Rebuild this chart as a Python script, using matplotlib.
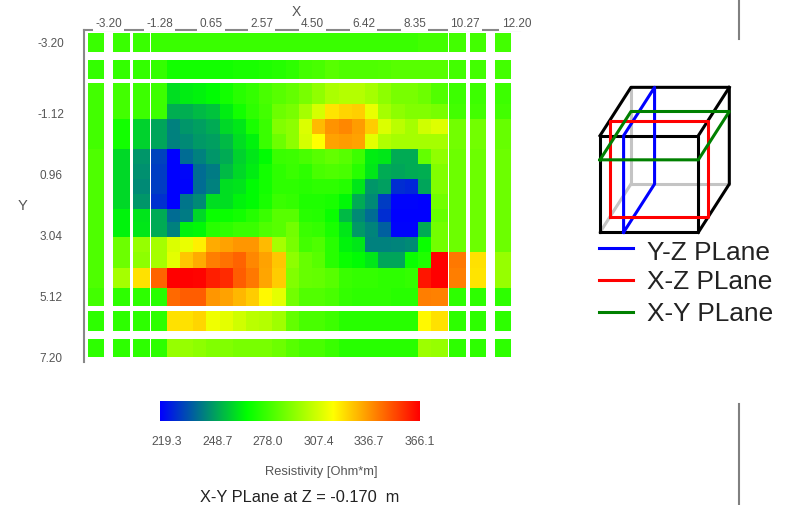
import numpy as np
from matplotlib import pyplot as plt
from matplotlib.colors import LinearSegmentedColormap
from matplotlib.lines import Line2D

plt.rcParams['font.family'] = ['Liberation Sans', 'DejaVu Sans']

# resistivity per cell, rows top to bottom, 28 columns
res_rows = [
    [279, 279, 279, 279, 279, 279, 279, 279, 279, 279, 279, 279, 279, 279, 279, 279, 279, 279, 279, 279, 279, 279, 279, 281, 281, 281, 281, 281],
    [278, 278, 278, 278, 272, 272, 272, 272, 272, 273, 273, 274, 275, 277, 281, 282, 285, 283, 283, 283, 284, 285, 285, 285, 285, 281, 281, 281],
    [281, 281, 280, 280, 262, 265, 266, 268, 272, 276, 278, 282, 285, 287, 291, 296, 301, 303, 303, 300, 295, 291, 291, 289, 284, 280, 280, 280],
    [281, 281, 280, 280, 253, 253, 255, 257, 265, 272, 277, 281, 289, 291, 300, 309, 322, 325, 326, 313, 300, 295, 293, 293, 291, 281, 281, 281],
    [281, 272, 260, 251, 244, 248, 250, 252, 261, 264, 273, 279, 293, 295, 310, 330, 338, 340, 336, 327, 310, 304, 300, 308, 311, 290, 290, 288],
    [281, 272, 260, 251, 244, 246, 249, 250, 255, 262, 266, 279, 289, 295, 309, 317, 335, 336, 335, 312, 302, 300, 300, 300, 300, 290, 290, 288],
    [283, 261, 248, 232, 219, 240, 244, 248, 252, 260, 264, 268, 279, 280, 282, 285, 287, 285, 280, 265, 264, 252, 252, 287, 296, 289, 289, 289],
    [283, 261, 247, 231, 219, 221, 240, 243, 255, 261, 265, 272, 277, 279, 277, 282, 283, 282, 276, 264, 252, 251, 252, 253, 293, 289, 289, 289],
    [283, 261, 246, 231, 219, 220, 240, 244, 262, 263, 268, 272, 277, 277, 276, 277, 277, 275, 264, 248, 250, 228, 227, 251, 293, 289, 289, 289],
    [283, 261, 248, 229, 219, 242, 246, 262, 262, 266, 268, 273, 279, 278, 274, 274, 273, 267, 252, 246, 231, 220, 220, 219, 290, 289, 289, 289],
    [283, 266, 263, 252, 240, 243, 261, 270, 270, 272, 275, 279, 285, 285, 276, 275, 270, 255, 246, 240, 228, 219, 219, 219, 288, 289, 289, 289],
    [283, 266, 264, 252, 244, 266, 267, 276, 277, 279, 279, 283, 285, 290, 279, 278, 273, 264, 249, 245, 238, 220, 220, 252, 290, 289, 289, 289],
    [283, 289, 297, 300, 310, 313, 320, 333, 335, 337, 337, 330, 300, 291, 281, 283, 276, 266, 264, 244, 244, 245, 246, 270, 290, 289, 289, 289],
    [283, 289, 295, 300, 312, 328, 333, 342, 344, 347, 340, 335, 328, 295, 288, 285, 276, 270, 268, 264, 251, 251, 270, 274, 366, 343, 323, 297],
    [283, 300, 323, 347, 366, 366, 365, 360, 358, 348, 343, 334, 327, 293, 288, 287, 285, 279, 278, 278, 277, 277, 278, 362, 366, 342, 322, 297],
    [281, 277, 277, 276, 346, 348, 348, 337, 335, 331, 327, 318, 312, 290, 284, 284, 282, 278, 277, 277, 277, 276, 276, 342, 341, 277, 277, 277],
    [277, 277, 277, 277, 323, 323, 325, 314, 312, 308, 304, 303, 299, 287, 282, 282, 280, 276, 276, 276, 276, 276, 276, 318, 323, 277, 277, 277],
    [277, 277, 277, 277, 297, 297, 295, 293, 293, 291, 291, 291, 289, 285, 282, 282, 279, 276, 276, 276, 276, 276, 276, 298, 297, 277, 277, 277],
]

# cell edges in metres, including the white gaps
x_edges = [-4.01, -3.39, -3.05, -2.42, -2.29, -1.65, -1.61, -1.02,
           -0.52, -0.02, 0.48, 0.98, 1.48, 1.98, 2.48, 2.98, 3.48, 3.98,
           4.48, 4.98, 5.48, 5.98, 6.48, 6.98, 7.48, 7.98, 8.48, 8.98,
           9.62, 9.67, 10.28, 10.45, 11.05, 11.39, 11.99]
y_edges = [-3.81, -3.18, -2.89, -2.25, -2.10, -1.39, -0.88, -0.37, 0.14, 0.65,
           1.16, 1.68, 2.19, 2.63, 3.14, 3.65, 4.20, 4.88, 5.50, 5.68, 6.34,
           6.62, 7.24]
gap_cols = [1, 2, 3, 25, 26, 27]
gap_rows = [1, 2, 16, 17]

x_ticks = [-3.20, -1.28, 0.65, 2.57, 4.50, 6.42, 8.35, 10.27, 12.20]
x_labels = ['-3.20', '-1.28', '0.65', '2.57', '4.50', '6.42', '8.35', '10.27', '12.20']
y_ticks = [-3.51, -1.12, 0.96, 3.04, 5.12, 7.20]
y_labels = ['-3.20', '-1.12', '0.96', '3.04', '5.12', '7.20']

cbar_ticks = [219.3, 248.7, 278.0, 307.4, 336.7, 366.1]
cbar_labels = ['219.3', '248.7', '278.0', '307.4', '336.7', '366.1']

plane_names = ['Y-Z PLane', 'X-Z PLane', 'X-Y PLane']
plane_colors = ['#0000ff', '#ff0000', '#008000']

W, H = 788, 506
GREY = '#555555'


def box(left, top, right, bottom):
    return [left / W, 1 - bottom / H, (right - left) / W, (bottom - top) / H]


def proj(x, y, z):
    # oblique view of the unit cube
    return x + 0.315 * y, z + 0.5 * y


def draw_path(ax, pts, color, lw=2.2, z=2):
    xs, ys = zip(*[proj(*p) for p in pts])
    ax.plot(xs, ys, color=color, lw=lw, zorder=z, solid_joinstyle='round')


cmap = LinearSegmentedColormap.from_list('res', ['#0000ff', '#00ff00', '#ffff00', '#ff0000'])
vmin, vmax = cbar_ticks[0], cbar_ticks[-1]

fig = plt.figure(figsize=(W / 100, H / 100), dpi=100)

# main map
ax = fig.add_axes(box(84, 31, 520, 363))
grid = np.array(res_rows, dtype=float)
grid = np.insert(grid, gap_cols, np.nan, axis=1)
grid = np.insert(grid, gap_rows, np.nan, axis=0)
ax.pcolormesh(x_edges, y_edges, grid, cmap=cmap, vmin=vmin, vmax=vmax, shading='flat')
ax.set_xlim(-4.145, 12.34)
ax.set_ylim(7.404, -3.916)
ax.xaxis.tick_top()
ax.set_xticks(x_ticks, x_labels, fontsize=8.5, color=GREY)
ax.set_yticks(y_ticks, y_labels, fontsize=8.5, color=GREY, ha='center')
ax.tick_params(axis='x', length=0, pad=1)
ax.tick_params(axis='y', length=0, pad=23.8)
for lab in ax.get_xticklabels():
    lab.set_bbox(dict(facecolor='white', edgecolor='none', pad=1.5))
ax.xaxis.set_zorder(3)
for side in ['right', 'bottom']:
    ax.spines[side].set_visible(False)
for side in ['top', 'left']:
    ax.spines[side].set_color('#888888')
    ax.spines[side].set_linewidth(1.5)

fig.text(296 / W, 1 - 12 / H, 'X', fontsize=10, color=GREY, ha='center', va='center')
fig.text(22 / W, 1 - 206 / H, 'Y', fontsize=10.5, color=GREY, ha='center', va='center')

# colour bar, the scale starts a little below the first label
cax = fig.add_axes(box(160, 402, 420, 422))
ramp = np.linspace(vmin, vmax, 256).reshape(1, -1)
cax.imshow(ramp, cmap=cmap, vmin=vmin, vmax=vmax, aspect='auto', extent=[215.4, vmax, 0, 1])
cax.set_yticks([])
cax.set_xticks(cbar_ticks, cbar_labels, fontsize=8.8, color=GREY)
cax.tick_params(axis='x', length=0, pad=10)
for s in cax.spines.values():
    s.set_visible(False)

fig.text(321 / W, 1 - 472 / H, 'Resistivity [Ohm*m]', fontsize=9.3, color=GREY, ha='center', va='center')
fig.text(300 / W, 1 - 498 / H, 'X-Y PLane at Z = -0.170  m', fontsize=11.8, color='#222222', ha='center', va='center')

# cube sketch
kax = fig.add_axes(box(590, 80, 788, 330))
kax.axis('off')
kax.set_xlim(-30 / 295, (594 - 30) / 295)
kax.set_ylim((460 - 750) / 290, 460 / 290)

# hidden edges
for pts in [[(0, 1, 0), (0, 1, 1)], [(0, 1, 0), (1, 1, 0)], [(0, 0, 0), (0, 1, 0)]]:
    draw_path(kax, pts, '#c4c4c4', z=1)
# visible edges
draw_path(kax, [(0, 0, 0), (1, 0, 0), (1, 0, 1), (0, 0, 1), (0, 0, 0)], 'black')
draw_path(kax, [(0, 0, 1), (0, 1, 1), (1, 1, 1), (1, 1, 0), (1, 0, 0)], 'black')
draw_path(kax, [(1, 0, 1), (1, 1, 1)], 'black')
# section planes
draw_path(kax, [(0.24, 0, 0), (0.24, 0, 1), (0.24, 1, 1), (0.24, 1, 0), (0.24, 0, 0)], plane_colors[0], z=3)
draw_path(kax, [(0, 0.31, 0), (1, 0.31, 0), (1, 0.31, 1), (0, 0.31, 1), (0, 0.31, 0)], plane_colors[1], z=3)
draw_path(kax, [(0, 0, 0.75), (1, 0, 0.75), (1, 1, 0.75), (0, 1, 0.75), (0, 0, 0.75)], plane_colors[2], z=3)

# key under the cube
key_y = [249, 281, 313]
text_y = [253, 282, 314]
for name, col, y, ty in zip(plane_names, plane_colors, key_y, text_y):
    fig.add_artist(Line2D([599 / W, 633 / W], [1 - y / H, 1 - y / H], color=col, lw=2.2))
    fig.text(647 / W, 1 - ty / H, name, fontsize=18.9, color='#222222', ha='left', va='center')

# page rule on the right
for y0, y1 in [(0, 40), (405, 506)]:
    fig.add_artist(Line2D([739 / W, 739 / W], [1 - y0 / H, 1 - y1 / H], color='#808080', lw=1.5))

fig.savefig('out.png', dpi=100)
